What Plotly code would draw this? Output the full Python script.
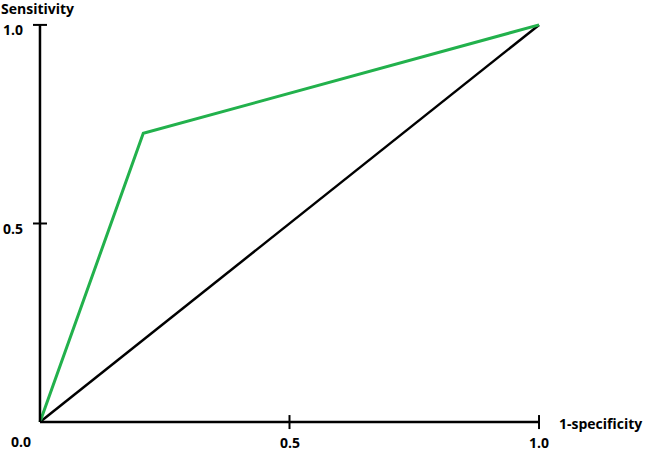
import plotly.graph_objects as go

# ROC curve data
fpr = [0.0, 0.207, 1.0]
tpr = [0.0, 0.727, 1.0]
chance_x = [0.0, 1.0]
chance_y = [0.0, 1.0]
tick_vals = [0.5, 1.0]
tick_text = ["0.5", "1.0"]
origin_label = "0.0"
x_title = "1-specificity"
y_title = "Sensitivity"

FONT = dict(family="Open Sans, DejaVu Sans, sans-serif", size=14, color="black")
GREEN = "#22b14c"

fig = go.Figure()
fig.add_trace(go.Scatter(x=chance_x, y=chance_y, mode="lines",
                         line=dict(color="black", width=2.5), hoverinfo="skip"))
fig.add_trace(go.Scatter(x=fpr, y=tpr, mode="lines",
                         line=dict(color=GREEN, width=3), hoverinfo="skip"))

shapes = []
# axis lines from 0 to last tick
shapes.append(dict(type="line", xref="x", yref="y", x0=0, y0=0, x1=max(tick_vals), y1=0,
                   line=dict(color="black", width=2.5)))
shapes.append(dict(type="line", xref="x", yref="y", x0=0, y0=0, x1=0, y1=max(tick_vals),
                   line=dict(color="black", width=2.5)))
for v in tick_vals:
    shapes.append(dict(type="line", xref="x", yref="y", x0=v, x1=v,
                       ysizemode="pixel", yanchor=0, y0=-7, y1=7,
                       line=dict(color="black", width=2)))
    shapes.append(dict(type="line", xref="x", yref="y", y0=v, y1=v,
                       xsizemode="pixel", xanchor=0, x0=-7, x1=7,
                       line=dict(color="black", width=2)))

annotations = []
for v, t in zip(tick_vals, tick_text):
    annotations.append(dict(x=v, y=0, xref="x", yref="y", text=f"<b>{t}</b>",
                            showarrow=False, xanchor="center", yanchor="middle",
                            yshift=-20, borderpad=0, font=FONT))
    annotations.append(dict(x=0, y=v, xref="x", yref="y", text=f"<b>{t}</b>",
                            showarrow=False, xanchor="right", yanchor="middle",
                            xshift=-16, yshift=-5, borderpad=0, font=FONT))
annotations.append(dict(x=0, y=0, xref="x", yref="y", text=f"<b>{origin_label}</b>",
                        showarrow=False, xanchor="center", yanchor="middle",
                        xshift=-19, yshift=-19, borderpad=0, font=FONT))
annotations.append(dict(x=max(tick_vals), y=0, xref="x", yref="y", text=f"<b>{x_title}</b>",
                        showarrow=False, xanchor="left", yanchor="middle",
                        xshift=19, yshift=-1, borderpad=0, font=FONT))
annotations.append(dict(x=0, y=max(tick_vals), xref="x", yref="y", text=f"<b>{y_title}</b>",
                        showarrow=False, xanchor="left", yanchor="middle",
                        xshift=-40, yshift=16, borderpad=0, font=FONT))

fig.update_layout(
    width=646, height=451,
    margin=dict(l=30, r=92, t=13, b=21),
    paper_bgcolor="white", plot_bgcolor="white",
    showlegend=False,
    xaxis=dict(range=[-0.02, 1.03], visible=False, fixedrange=True),
    yaxis=dict(range=[-0.02, 1.03], visible=False, fixedrange=True),
    shapes=shapes, annotations=annotations,
)

fig.write_html("out.html", config=dict(displayModeBar=False),
               post_script="document.body.style.margin='0';document.body.style.overflow='hidden';")
